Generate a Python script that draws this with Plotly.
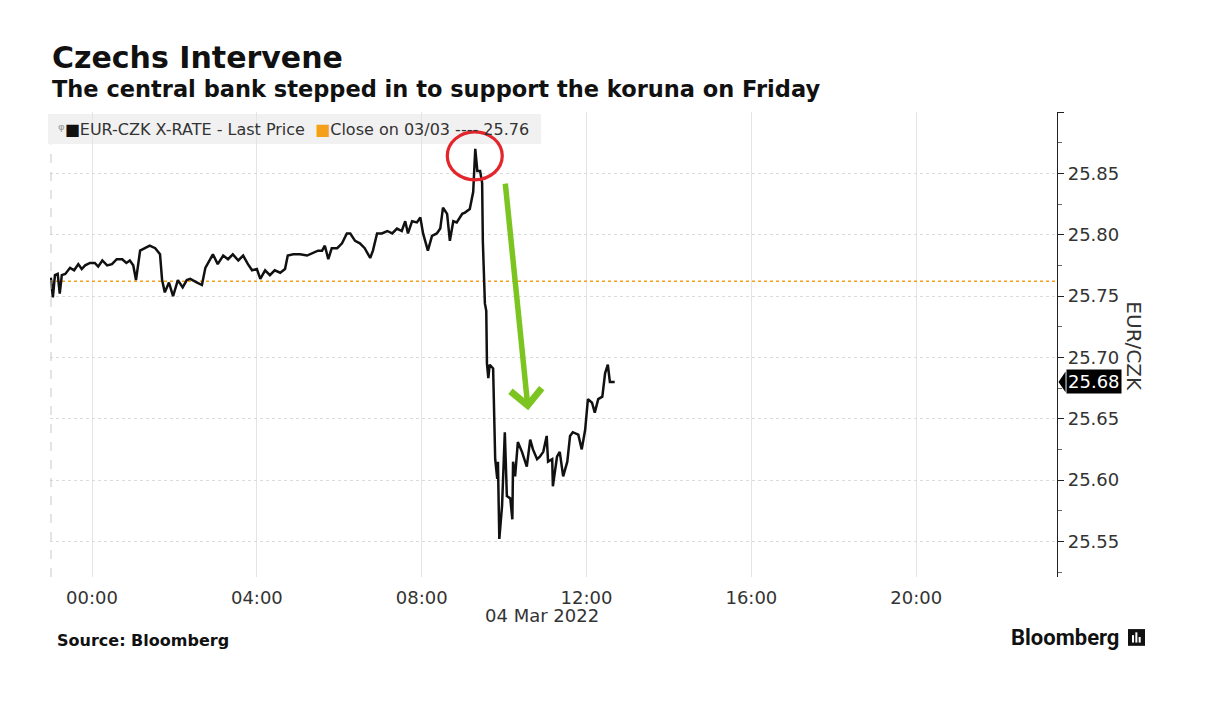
import plotly.graph_objects as go

# ---------------- data ----------------
times = [
    "2022-03-03 23:00", "2022-03-03 23:03", "2022-03-03 23:06", "2022-03-03 23:10", "2022-03-03 23:13",
    "2022-03-03 23:16", "2022-03-03 23:21", "2022-03-03 23:28", "2022-03-03 23:34", "2022-03-03 23:40",
    "2022-03-03 23:45", "2022-03-03 23:50", "2022-03-03 23:57", "2022-03-04 00:04", "2022-03-04 00:09",
    "2022-03-04 00:15", "2022-03-04 00:22", "2022-03-04 00:29", "2022-03-04 00:36", "2022-03-04 00:44",
    "2022-03-04 00:50", "2022-03-04 00:55", "2022-03-04 01:00", "2022-03-04 01:04", "2022-03-04 01:10",
    "2022-03-04 01:17", "2022-03-04 01:24", "2022-03-04 01:32", "2022-03-04 01:39", "2022-03-04 01:42",
    "2022-03-04 01:46", "2022-03-04 01:52", "2022-03-04 01:58", "2022-03-04 02:05", "2022-03-04 02:12",
    "2022-03-04 02:18", "2022-03-04 02:23", "2022-03-04 02:33", "2022-03-04 02:40", "2022-03-04 02:45",
    "2022-03-04 02:52", "2022-03-04 02:56", "2022-03-04 03:03", "2022-03-04 03:11", "2022-03-04 03:18",
    "2022-03-04 03:25", "2022-03-04 03:33", "2022-03-04 03:40", "2022-03-04 03:47", "2022-03-04 03:53",
    "2022-03-04 04:00", "2022-03-04 04:05", "2022-03-04 04:12", "2022-03-04 04:19", "2022-03-04 04:26",
    "2022-03-04 04:34", "2022-03-04 04:41", "2022-03-04 04:45", "2022-03-04 04:53", "2022-03-04 05:03",
    "2022-03-04 05:13", "2022-03-04 05:20", "2022-03-04 05:29", "2022-03-04 05:35", "2022-03-04 05:39",
    "2022-03-04 05:44", "2022-03-04 05:49", "2022-03-04 05:57", "2022-03-04 06:04", "2022-03-04 06:11",
    "2022-03-04 06:16", "2022-03-04 06:23", "2022-03-04 06:30", "2022-03-04 06:37", "2022-03-04 06:45",
    "2022-03-04 06:49", "2022-03-04 06:55", "2022-03-04 07:02", "2022-03-04 07:10", "2022-03-04 07:17",
    "2022-03-04 07:24", "2022-03-04 07:31", "2022-03-04 07:36", "2022-03-04 07:40", "2022-03-04 07:46",
    "2022-03-04 07:53", "2022-03-04 07:58", "2022-03-04 08:02", "2022-03-04 08:09", "2022-03-04 08:15",
    "2022-03-04 08:22", "2022-03-04 08:27", "2022-03-04 08:31", "2022-03-04 08:37", "2022-03-04 08:41",
    "2022-03-04 08:46", "2022-03-04 08:51", "2022-03-04 08:59", "2022-03-04 09:03", "2022-03-04 09:10",
    "2022-03-04 09:15", "2022-03-04 09:18", "2022-03-04 09:21", "2022-03-04 09:25", "2022-03-04 09:28",
    "2022-03-04 09:29", "2022-03-04 09:32", "2022-03-04 09:34", "2022-03-04 09:35", "2022-03-04 09:37",
    "2022-03-04 09:39", "2022-03-04 09:44", "2022-03-04 09:47", "2022-03-04 09:50", "2022-03-04 09:51",
    "2022-03-04 09:53", "2022-03-04 09:57", "2022-03-04 10:01", "2022-03-04 10:04", "2022-03-04 10:09",
    "2022-03-04 10:12", "2022-03-04 10:13", "2022-03-04 10:16", "2022-03-04 10:20", "2022-03-04 10:26",
    "2022-03-04 10:33", "2022-03-04 10:38", "2022-03-04 10:42", "2022-03-04 10:48", "2022-03-04 10:52",
    "2022-03-04 10:57", "2022-03-04 11:02", "2022-03-04 11:04", "2022-03-04 11:10", "2022-03-04 11:11",
    "2022-03-04 11:17", "2022-03-04 11:21", "2022-03-04 11:26", "2022-03-04 11:32", "2022-03-04 11:36",
    "2022-03-04 11:40", "2022-03-04 11:48", "2022-03-04 11:53", "2022-03-04 11:58", "2022-03-04 12:02",
    "2022-03-04 12:08", "2022-03-04 12:12", "2022-03-04 12:17", "2022-03-04 12:23", "2022-03-04 12:27",
    "2022-03-04 12:31", "2022-03-04 12:34", "2022-03-04 12:41",
]

eur_czk = [
    25.765, 25.749, 25.767, 25.768, 25.752,
    25.767, 25.768, 25.773, 25.771, 25.776,
    25.772, 25.775, 25.777, 25.777, 25.774,
    25.779, 25.775, 25.776, 25.780, 25.780,
    25.777, 25.779, 25.775, 25.763, 25.787,
    25.789, 25.791, 25.789, 25.784, 25.763,
    25.753, 25.761, 25.750, 25.763, 25.757,
    25.763, 25.764, 25.761, 25.759, 25.773,
    25.780, 25.784, 25.776, 25.783, 25.780,
    25.784, 25.779, 25.783, 25.776, 25.771,
    25.772, 25.764, 25.771, 25.767, 25.771,
    25.769, 25.772, 25.783, 25.784, 25.784,
    25.783, 25.785, 25.787, 25.787, 25.791,
    25.780, 25.789, 25.789, 25.793, 25.801,
    25.801, 25.795, 25.793, 25.789, 25.781,
    25.787, 25.801, 25.801, 25.803, 25.801,
    25.805, 25.803, 25.811, 25.801, 25.811,
    25.810, 25.814, 25.801, 25.787, 25.799,
    25.801, 25.805, 25.822, 25.817, 25.795,
    25.811, 25.810, 25.817, 25.818, 25.821,
    25.835, 25.870, 25.852, 25.852, 25.842,
    25.795, 25.744, 25.738, 25.695, 25.683,
    25.694, 25.691, 25.617, 25.601, 25.615,
    25.552, 25.579, 25.639, 25.587, 25.585,
    25.568, 25.615, 25.603, 25.631, 25.623,
    25.611, 25.633, 25.625, 25.617, 25.619,
    25.623, 25.636, 25.615, 25.617, 25.595,
    25.619, 25.623, 25.603, 25.615, 25.636,
    25.639, 25.637, 25.625, 25.641, 25.666,
    25.663, 25.655, 25.666, 25.668, 25.687,
    25.694, 25.680, 25.680,
]

close_prev = 25.762
close_label = "25.76"

x_tick_vals = ["2022-03-04 00:00", "2022-03-04 04:00", "2022-03-04 08:00",
               "2022-03-04 12:00", "2022-03-04 16:00", "2022-03-04 20:00"]
x_tick_text = ["00:00", "04:00", "08:00", "12:00", "16:00", "20:00"]
y_tick_vals = [25.55, 25.60, 25.65, 25.70, 25.75, 25.80, 25.85, 25.90]
y_tick_text = ["25.55", "25.60", "25.65", "25.70", "25.75", "25.80", "25.85", ""]

x_range = ["2022-03-03 22:58:48", "2022-03-04 23:25"]
y_range = [25.521, 25.90]

peak_time = "2022-03-04 09:18"
peak_value = 25.870
arrow_tip_time = "2022-03-04 10:35"
arrow_tip_value = 25.657

# ---------------- figure ----------------
TICK_FONT = "DejaVu Sans"
BOLD_FONT = "DejaVu Sans"

fig = go.Figure()

fig.add_trace(go.Scatter(
    x=[x_range[0], x_range[1]], y=[close_prev, close_prev], mode="lines",
    line=dict(color="#f5a01a", width=1.5, dash="dot"), hoverinfo="skip", showlegend=False))

fig.add_trace(go.Scatter(
    x=times, y=eur_czk, mode="lines",
    line=dict(color="#111111", width=2.5), showlegend=False, name="EUR-CZK"))

# the page body has an 8px margin, so the figure is sized 8px smaller
fig.update_layout(
    width=1222, height=708,
    margin=dict(l=42, r=173, t=104, b=139),
    paper_bgcolor="white", plot_bgcolor="white",
    showlegend=False,
    font=dict(family=TICK_FONT, color="#333333"),
)

fig.update_xaxes(
    range=x_range, type="date",
    tickvals=x_tick_vals, ticktext=x_tick_text,
    tickfont=dict(size=18, color="#333333", family=TICK_FONT),
    ticks="outside", ticklen=4, tickcolor="rgba(0,0,0,0)",
    showgrid=True, gridcolor="#e4e4e4", gridwidth=1,
    showline=False, zeroline=False,
)

fig.update_yaxes(
    range=y_range, side="right",
    tickvals=y_tick_vals, ticktext=y_tick_text,
    tickfont=dict(size=18, color="#333333", family=TICK_FONT),
    ticks="outside", ticklen=6, tickcolor="#222222", tickwidth=1,
    minor=dict(dtick=0.025, tick0=25.525, ticks="outside", ticklen=4,
               tickcolor="#666666", showgrid=False),
    showgrid=True, gridcolor="#dcdcdc", gridwidth=1, griddash="dot",
    showline=True, linecolor="#222222", linewidth=1.2,
    zeroline=False,
)

shapes = []
# legend background
shapes.append(dict(type="rect", xref="paper", yref="paper",
                   x0=-0.002, x1=0.4876, y0=0.931, y1=0.9957,
                   fillcolor="#f1f1f1", line=dict(width=0), layer="below"))
# left dashed edge
shapes.append(dict(type="line", xref="paper", yref="paper", x0=0.001, x1=0.001,
                   y0=0, y1=0.93, line=dict(color="#c8c8c8", width=1, dash="dash")))
# red circle around the peak
shapes.append(dict(type="circle", xref="x", yref="y",
                   xsizemode="pixel", ysizemode="pixel",
                   xanchor=peak_time, yanchor=peak_value,
                   x0=-28, x1=27, y0=-31, y1=17,
                   line=dict(color="#e3262b", width=3.2)))
# last value pointer
last_val = eur_czk[-1]
shapes.append(dict(type="path", xref="paper", yref="y",
                   path=f"M 1.0015,{last_val} L 1.0085,{last_val + 0.0085} L 1.0085,{last_val - 0.0085} Z",
                   fillcolor="#000000", line=dict(width=0)))
# bloomberg icon
shapes.append(dict(type="rect", xref="paper", yref="paper",
                   x0=1.0705, x1=1.0874, y0=-0.148, y1=-0.112,
                   fillcolor="#111111", line=dict(width=0)))
for bx0, bx1, by1 in [(1.0745, 1.0765, -0.125), (1.0778, 1.0798, -0.119), (1.0811, 1.0831, -0.129)]:
    shapes.append(dict(type="rect", xref="paper", yref="paper",
                       x0=bx0, x1=bx1, y0=-0.141, y1=by1,
                       fillcolor="white", line=dict(width=0)))
fig.update_layout(shapes=shapes)

annotations = [
    dict(text="<b>Czechs Intervene</b>", xref="paper", yref="paper", x=0.0, y=1.118,
         xanchor="left", yanchor="middle", showarrow=False,
         font=dict(size=30, color="#111111", family=BOLD_FONT)),
    dict(text="<b>The central bank stepped in to support the koruna on Friday</b>",
         xref="paper", yref="paper", x=0.0, y=1.049, xanchor="left", yanchor="middle",
         showarrow=False, font=dict(size=22.5, color="#111111", family=BOLD_FONT)),
    dict(text='<span style="color:#999999">ᵠ</span><span style="color:#111111">■</span>EUR-CZK X-RATE - Last Price  '
              '<span style="color:#f5a01a">■</span>Close on 03/03 ---- ' + close_label,
         xref="paper", yref="paper", x=0.006, y=0.9634, xanchor="left", yanchor="middle",
         showarrow=False, font=dict(size=16, color="#333333", family=TICK_FONT)),
    dict(text="EUR/CZK", xref="paper", yref="paper", x=1.077, y=0.497,
         xanchor="center", yanchor="middle", textangle=90, showarrow=False,
         font=dict(size=20, color="#333333", family=TICK_FONT)),
    dict(text=f"{last_val:.2f}", xref="paper", yref="y", x=1.0085, y=last_val,
         xanchor="left", yanchor="middle", showarrow=False, bgcolor="#000000",
         borderpad=1, font=dict(size=18, color="white", family=TICK_FONT)),
    dict(text="04 Mar 2022", xref="x", yref="paper", x="2022-03-04 10:55", y=-0.082,
         xanchor="center", yanchor="middle", showarrow=False,
         font=dict(size=18, color="#333333", family=TICK_FONT)),
    dict(text="<b>Source: Bloomberg</b>", xref="paper", yref="paper", x=0.005, y=-0.1376,
         xanchor="left", yanchor="middle", showarrow=False,
         font=dict(size=16, color="#111111", family=BOLD_FONT)),
    dict(text="<b>Bloomberg</b>", xref="paper", yref="paper", x=1.0636, y=-0.131,
         xanchor="right", yanchor="middle", showarrow=False,
         font=dict(size=22, color="#111111", family="Roboto")),
    dict(text="", xref="x", yref="y", x=arrow_tip_time, y=arrow_tip_value,
         ax=-23, ay=-228, showarrow=True, arrowhead=4, arrowsize=1.1,
         arrowwidth=5.5, arrowcolor="#7cc520", standoff=0),
]
fig.update_layout(annotations=annotations)

fig.write_html("out.html")
